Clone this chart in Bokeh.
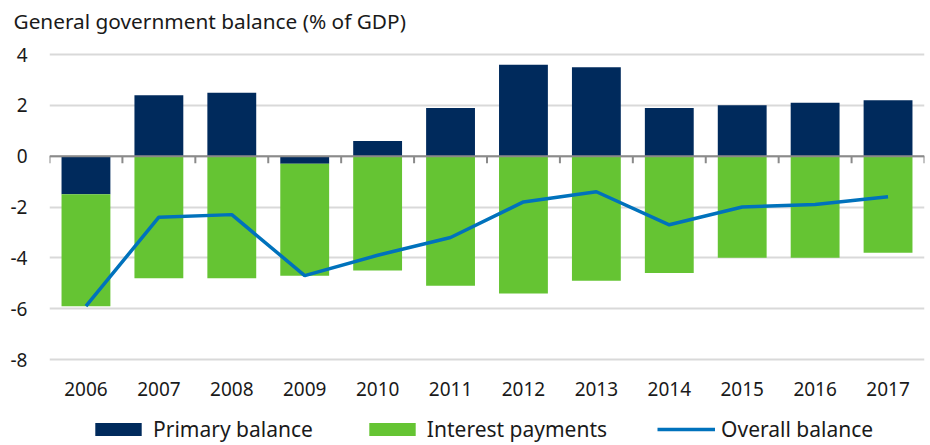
from bokeh.plotting import figure
from bokeh.models import (ColumnDataSource, FactorRange, Range1d, FixedTicker, Span,
                          Legend, LegendItem)
from bokeh.core.properties import value
from bokeh.transform import dodge
from bokeh.embed import file_html
from bokeh.resources import INLINE

years = ["2006", "2007", "2008", "2009", "2010", "2011", "2012", "2013",
         "2014", "2015", "2016", "2017"]
primary_balance = [-1.5, 2.4, 2.5, -0.3, 0.6, 1.9, 3.6, 3.5, 1.9, 2.0, 2.1, 2.2]
interest_payments = [-4.4, -4.8, -4.8, -4.4, -4.5, -5.1, -5.4, -4.9, -4.6, -4.0, -4.0, -3.8]
overall_balance = [-5.9, -2.4, -2.3, -4.7, -3.9, -3.2, -1.8, -1.4, -2.7, -2.0, -1.9, -1.6]
y_ticks = [-8, -6, -4, -2, 0, 2, 4]
title_text = "General government balance (% of GDP)"

FONT = "Noto Sans"
NAVY = "#002a5c"
GREEN = "#65c433"
BLUE = "#0072bc"
TXT = "#1a1a1a"

# layout: gridline 4 at y=54px, gridline -8 at y=359px, canvas 445px tall
H = 445
FRAME_TOP = 37
PX_PER_UNIT = (359 - 54) / (y_ticks[-1] - y_ticks[0])
y_lo = y_ticks[0] - (H - 359) / PX_PER_UNIT
y_hi = y_ticks[-1] + (54 - FRAME_TOP) / PX_PER_UNIT
label_y = y_ticks[0] - 29 / PX_PER_UNIT

int_top = [min(p, 0) for p in primary_balance]
int_bottom = [t + i for t, i in zip(int_top, interest_payments)]

src = ColumnDataSource(dict(
    year=years,
    prim=primary_balance,
    zero=[0] * len(years),
    int_top=int_top,
    int_bottom=int_bottom,
    overall=overall_balance,
    label_y=[label_y] * len(years),
))

p = figure(x_range=FactorRange(*years, range_padding=0), y_range=Range1d(y_lo, y_hi),
           width=930, height=H, output_backend="svg", toolbar_location=None,
           x_axis_location=None,
           min_border_left=49, min_border_right=6, min_border_top=FRAME_TOP,
           min_border_bottom=0)
p.outline_line_color = None
p.background_fill_color = None
p.border_fill_color = "white"

p.title.text = title_text
p.title.text_font = FONT
p.title.text_font_size = "20.8px"
p.title.text_font_style = "normal"
p.title.text_color = TXT
p.title.align = "left"
p.title.offset = -36
p.title.standoff = 6

# y axis
p.yaxis.ticker = FixedTicker(ticks=y_ticks)
p.yaxis.major_label_overrides = {t: str(t) for t in y_ticks}
p.yaxis.axis_line_color = None
p.yaxis.major_tick_line_color = None
p.yaxis.major_tick_out = 0
p.yaxis.major_tick_in = 0
p.yaxis.minor_tick_line_color = None
p.yaxis.major_label_standoff = 22
p.yaxis.major_label_text_font = FONT
p.yaxis.major_label_text_font_size = "19px"
p.yaxis.major_label_text_color = TXT

p.xgrid.grid_line_color = None
p.ygrid.grid_line_color = "#d9d9d9"
p.ygrid.grid_line_width = 2

W = 0.67
r_prim = p.vbar(x="year", top="prim", bottom="zero", width=W, source=src,
                fill_color=NAVY, line_color=None)
r_int = p.vbar(x="year", top="int_top", bottom="int_bottom", width=W, source=src,
               fill_color=GREEN, line_color=None)

# zero line with category boundary ticks
p.add_layout(Span(location=0, dimension="width", line_color="#8a8a8a", line_width=2))
bsrc = ColumnDataSource(dict(year=years, zero=[0] * len(years), down=[-0.28] * len(years)))
p.segment(x0=dodge("year", -0.5, range=p.x_range), x1=dodge("year", -0.5, range=p.x_range),
          y0="zero", y1="down", source=bsrc, line_color="#8a8a8a", line_width=2)
p.segment(x0=dodge("year", 0.5, range=p.x_range), x1=dodge("year", 0.5, range=p.x_range),
          y0="zero", y1="down",
          source=ColumnDataSource(dict(year=years[-1:], zero=[0], down=[-0.28])),
          line_color="#8a8a8a", line_width=2)

r_line = p.line(x="year", y="overall", source=src, line_color=BLUE, line_width=3.5)

# category labels
p.text(x="year", y="label_y", text="year", source=src, text_font=value(FONT),
       text_font_size="19px", text_color=TXT, text_align="center",
       text_baseline="middle")

legend = Legend(items=[
    LegendItem(label="Primary balance", renderers=[r_prim]),
    LegendItem(label="Interest payments", renderers=[r_int]),
    LegendItem(label="Overall balance", renderers=[r_line]),
], orientation="horizontal", location=(40, 2))
legend.glyph_width = 58
legend.glyph_height = 16
legend.label_standoff = 6
legend.spacing = 50
legend.padding = 0
legend.margin = 0
legend.border_line_color = None
legend.background_fill_alpha = 0
legend.label_text_font = FONT
legend.label_text_font_size = "21px"
legend.label_text_color = TXT
p.add_layout(legend, "center")

open("out.html", "w").write(file_html(p, INLINE))
